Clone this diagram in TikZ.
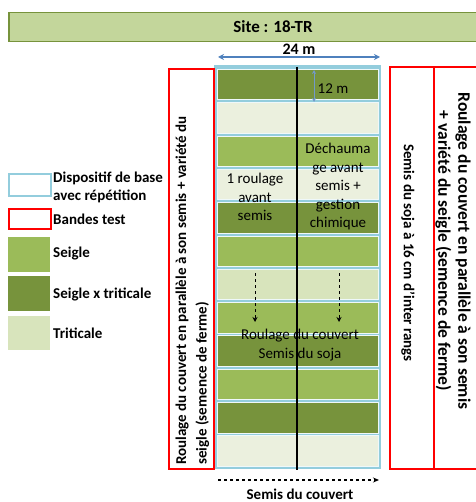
\documentclass[tikz,border=0pt]{standalone}
\usepackage{fontspec}
\setmainfont{Carlito}
\usetikzlibrary{arrows.meta}
\definecolor{titlefill}{HTML}{C3D69B}
\definecolor{titleline}{HTML}{77933C}
\definecolor{seigle}{HTML}{9BBB59}
\definecolor{sxt}{HTML}{77933C}
\definecolor{trit}{HTML}{D8E4BC}
\definecolor{pale}{HTML}{EBF0DE}
\definecolor{frameblue}{HTML}{93CDDD}
\definecolor{arrowblue}{HTML}{4F81BD}
\definecolor{testred}{HTML}{FF0000}
\tikzset{
  strip/.style={draw=white!85!frameblue, line width=0.4pt, minimum width=161pt, minimum height=30.5pt, inner sep=0pt},
  legbox/.style={minimum width=42pt, inner sep=0pt, anchor=north west},
  redbox/.style={draw=testred, line width=2pt, inner sep=0pt, anchor=north west},
  legtext/.style={font=\fontsize{15}{18.5}\selectfont\bfseries, anchor=west, align=left, inner sep=0pt},
  plottext/.style={font=\fontsize{15}{18.5}\selectfont, align=center, inner sep=0pt},
  sidetext/.style={font=\fontsize{15}{20.5}\selectfont\bfseries, inner sep=0pt},
}
\begin{document}
\begin{tikzpicture}[x=1pt,y=-1pt]
\useasboundingbox (0,0) rectangle (475,502);
% title
\node[draw=titleline, fill=titlefill, line width=1.5pt, minimum width=480pt, minimum height=29pt, anchor=north west, inner sep=0pt] (title) at (8,12) {};
\node[font=\fontsize{17}{20}\selectfont\bfseries] (titletxt) at (273,27) {Site : 18-TR};
% width
\coordinate (wl) at (218,57);
\coordinate (wr) at (380,57);
\draw[arrowblue, line width=1.5pt, {Stealth[length=6pt,width=6pt]}-{Stealth[length=6pt,width=6pt]}] (wl) -- (wr);
\node[font=\fontsize{16}{18}\selectfont\bfseries] (wtxt) at (299,49) {24 m};
% frame
\node[fill=frameblue, minimum width=167pt, minimum height=404pt, anchor=north west, inner sep=0pt] (frame) at (214,65) {};
% strips
\foreach \i/\c in {1/sxt,2/pale,3/seigle,4/pale,5/sxt,6/seigle,7/trit,8/seigle,9/sxt,10/seigle,11/sxt,12/pale}{
  \node[strip, fill=\c, anchor=north west] (s\i) at (216.5,{69+33.3*(\i-1)}) {};
}
% central line
\coordinate (ct) at (297,67);
\coordinate (cb) at (297,470);
\draw[black, line width=1.3pt] (ct) -- (cb);
% 12 m
\coordinate (mt) at (314,70);
\coordinate (mb) at (314,102);
\draw[arrowblue!80!white, line width=0.8pt, {Stealth[length=4pt,width=4pt]}-{Stealth[length=4pt,width=4pt]}] (mt) -- (mb);
\node[plottext] (mtxt) at (333,89) {12 m};
% treatments
\node[plottext] (roul1) at (255,197) {1 roulage\\avant\\semis};
\node[plottext] (dech) at (338,187) {Déchauma\\ge avant\\semis +\\gestion\\chimique};
\coordinate (d1t) at (255,273);
\coordinate (d1b) at (255,322);
\coordinate (d2t) at (339,273);
\coordinate (d2b) at (339,322);
\draw[black, line width=1pt, dashed, -{Stealth[length=5pt,width=5pt]}] (d1t) -- (d1b);
\draw[black, line width=1pt, dashed, -{Stealth[length=5pt,width=5pt]}] (d2t) -- (d2b);
\node[plottext] (roul2) at (300,345) {Roulage du couvert\\Semis du soja};
% bottom
\coordinate (bl) at (218,480);
\coordinate (br) at (379,480);
\draw[black, line width=1.2pt, dashed, -{Stealth[length=6pt,width=5pt]}] (bl) -- (br);
\node[font=\fontsize{15}{17}\selectfont\bfseries] (btxt) at (300,494) {Semis du couvert};
% test bands
\node[redbox, minimum width=45pt, minimum height=400pt] (lb) at (168,68) {};
\node[redbox, minimum width=44pt, minimum height=402pt] (rb1) at (389,66) {};
\node[redbox, minimum width=50pt, minimum height=402pt] (rb2) at (433,66) {};
\node[sidetext, rotate=90, anchor=west, align=left] (lbt) at (192.5,465) {Roulage du couvert en parallèle à son semis + variété du\\seigle (semence de ferme)};
\node[sidetext, rotate=-90] (rb1t) at (408,253) {Semis du soja à 16 cm d’inter rangs};
\node[sidetext, font=\fontsize{17.5}{20}\selectfont\bfseries, rotate=-90, align=center] (rb2t) at (453,251) {Roulage du couvert en parallèle à son semis\\+ variété du seigle (semence de ferme)};
% legend
\node[legbox, draw=frameblue, line width=2pt, minimum height=22pt] (lg1) at (8,173) {};
\node[legtext] (lg1t) at (53,187.5) {Dispositif de base\\avec répétition};
\node[legbox, draw=testred, line width=2pt, minimum height=20pt] (lg2) at (8,208) {};
\node[legtext] (lg2t) at (53,219) {Bandes test};
\node[legbox, fill=seigle, minimum height=35pt] (lg3) at (8,237) {};
\node[legtext] (lg3t) at (53,254) {Seigle};
\node[legbox, fill=sxt, minimum height=35pt] (lg4) at (8,276) {};
\node[legtext] (lg4t) at (53,294) {Seigle x triticale};
\node[legbox, fill=trit, minimum height=34pt] (lg5) at (8,316) {};
\node[legtext] (lg5t) at (53,333) {Triticale};
\end{tikzpicture}
\end{document}
